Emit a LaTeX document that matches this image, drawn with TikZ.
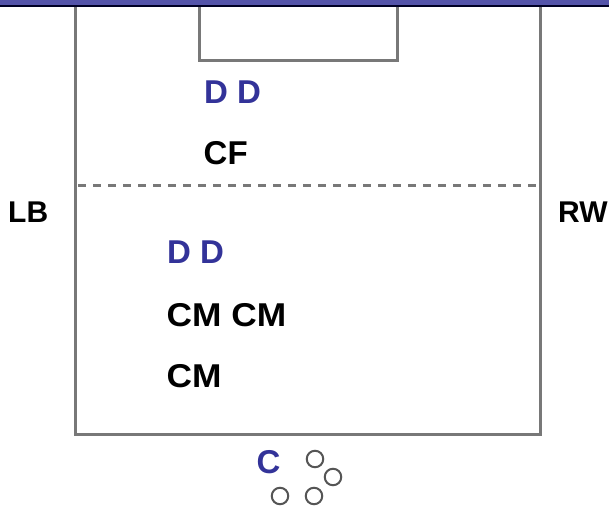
\documentclass[tikz,border=0pt]{standalone}
\usepackage{fontspec}
\setmainfont{Liberation Sans}
\definecolor{barblue}{RGB}{84,84,170}
\definecolor{txtblue}{RGB}{51,51,153}
\definecolor{linegray}{RGB}{120,120,120}
\definecolor{ballgray}{RGB}{85,85,85}
\tikzset{
  fieldline/.style={draw=linegray, line width=3pt, line join=miter},
  lbl/.style={anchor=base west, inner sep=0pt, font=\bfseries\fontsize{33}{38}\selectfont},
  wide/.style={xscale=1.07, transform shape},
  sidelbl/.style={anchor=base west, inner sep=0pt, font=\bfseries\fontsize{30}{34}\selectfont},
  ball/.style={draw=ballgray, line width=2pt, circle, minimum size=16.5pt, inner sep=0pt}
}
\begin{document}
\begin{tikzpicture}[x=1pt,y=-1pt]
\useasboundingbox (0,0) rectangle (609,508);
\fill[white] (0,0) rectangle (609,508);
% field
\draw[fieldline] (75,5) -- (75,434) -- (540,434) -- (540,5);
\draw[fieldline] (199,5) -- (199,61) -- (397,61) -- (397,5);
\draw[draw=linegray, line width=3pt, dash pattern=on 8pt off 7pt] (78,185) -- (540,185);
% top bar
\fill[barblue] (0,0) rectangle (609,5.5);
\draw[draw=black!85!blue, line width=2pt] (0,6.5) -- (609,6.5);
% labels
\node[lbl, text=txtblue] (dd1) at (204,103) {D D};
\node[lbl] (cf) at (203.5,164.5) {CF};
\node[sidelbl] (lb) at (8,222) {LB};
\node[sidelbl] (rw) at (558,222) {RW};
\node[lbl, text=txtblue] (dd2) at (167,263) {D D};
\node[lbl, wide] (cmcm) at (166.5,326) {CM CM};
\node[lbl, wide] (cm) at (166.5,387) {CM};
\node[lbl, text=txtblue] (c) at (256.5,473) {C};
% balls
\node[ball] (b1) at (315,459) {};
\node[ball] (b2) at (333,477) {};
\node[ball] (b3) at (280,496) {};
\node[ball] (b4) at (314,496) {};
\end{tikzpicture}
\end{document}
